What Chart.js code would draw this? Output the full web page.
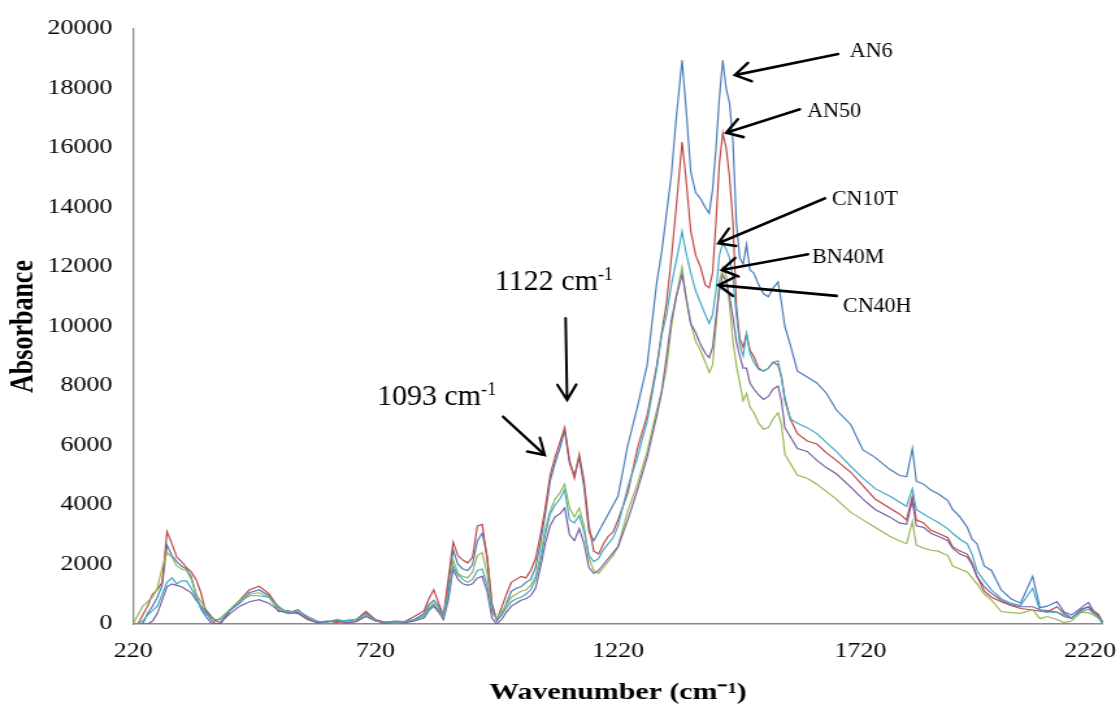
<!DOCTYPE html>
<html>
<head>
<meta charset="utf-8">
<script src="https://cdn.jsdelivr.net/npm/chart.js@4.4.1/dist/chart.umd.min.js"></script>
<style>
  body { margin: 0; overflow: hidden; background: #fff; }
  /* the original chart is stretched sideways, so the canvas is too */
  #wrap { width: 862px; height: 709px; transform: scaleX(1.2993); transform-origin: 0 0; }
</style>
</head>
<body>
<div id="wrap"><canvas id="spectra"></canvas></div>
<script>
// Spectra
const wavenumber = [
    220, 230, 240, 250, 260, 270, 280, 290, 300, 310, 320, 330, 340, 350, 360, 370, 380, 390, 400,
    420, 440, 460, 480, 500, 520, 540, 560, 580, 600,
    620, 640, 660, 680, 700, 720, 740, 760, 780, 800, 820,
    830, 840, 850, 860, 870, 880, 890, 900, 910, 920,
    930, 940, 950, 960, 970, 980, 990, 1000, 1010, 1020,
    1030, 1040, 1050, 1060, 1070, 1080, 1090, 1100, 1110, 1120,
    1130, 1140, 1150, 1160, 1170, 1180, 1190, 1200, 1210, 1220,
    1240, 1260, 1280, 1300, 1310, 1320, 1330, 1340, 1352, 1360, 1370, 1380, 1390, 1400,
    1408, 1415, 1422, 1429, 1436, 1443, 1450, 1457, 1464, 1471, 1478, 1485, 1492, 1500,
    1510, 1520, 1530, 1540, 1550, 1557, 1564, 1575, 1590, 1610,
    1630, 1650, 1670, 1700, 1725, 1750, 1780, 1800, 1815, 1827,
    1835, 1850, 1865, 1880, 1900, 1910, 1925, 1940, 1950, 1960,
    1975, 1990, 2010, 2030, 2050, 2075, 2090, 2105, 2125, 2140,
    2155, 2175, 2190, 2200, 2210, 2220
];
const an6 = [
    0, 0, 0, 350, 600, 900, 1300, 2650, 2300, 2100, 1950, 1850, 1600, 1000, 500, 250, 50, 0, 0,
    450, 700, 1050, 1150, 950, 420, 450, 350, 150, 50,
    80, 120, 50, 100, 380, 100, 50, 80, 60, 150, 350,
    650, 800, 600, 250, 1300, 2500, 2000, 1850, 1800, 2000,
    2800, 3050, 2300, 700, 100, 300, 700, 1100, 1200, 1250,
    1400, 1500, 1900, 2700, 3700, 4800, 5400, 5900, 6500, 5400,
    5000, 5600, 4600, 3100, 2800, 3100, 3400, 3700, 4000, 4300,
    6000, 7300, 8700, 11500, 12500, 13800, 15100, 17000, 18950, 17400, 15200, 14500, 14300, 14000,
    13800, 14600, 16000, 17700, 18950, 18000, 17500, 16200, 13500, 12300, 12100, 12750, 11900, 11800,
    11400, 11100, 11000, 11300, 11500, 10800, 10000, 9400, 8500, 8300,
    8100, 7750, 7200, 6700, 5850, 5600, 5200, 5000, 4950, 5900,
    4800, 4700, 4500, 4380, 4150, 3850, 3600, 3250, 2850, 2700,
    1950, 1800, 1150, 850, 700, 1600, 550, 600, 750, 400,
    300, 550, 720, 450, 300, 0
];
const an50 = [
    0, 0, 300, 600, 1000, 1150, 1400, 3100, 2700, 2250, 2100, 1900, 1750, 1500, 1050, 400, 150, 0, 20,
    470, 800, 1150, 1270, 1020, 550, 380, 480, 200, 60,
    100, 50, 120, 150, 420, 150, 60, 100, 80, 250, 450,
    850, 1150, 700, 300, 1500, 2750, 2300, 2150, 2050, 2250,
    3300, 3350, 2200, 600, 150, 550, 1000, 1400, 1500, 1600,
    1550, 1800, 2200, 3000, 3900, 5000, 5600, 6100, 6600, 5500,
    4900, 5700, 4800, 3300, 2450, 2350, 2700, 2950, 3100, 3500,
    4400, 5900, 7000, 8700, 9800, 10800, 12300, 14000, 16200, 15000, 13200, 12400, 12000, 11400,
    11300, 11800, 13500, 15500, 16500, 16000, 15000, 13500, 10700, 9600, 9300, 9750, 9200, 9000,
    8600, 8500, 8600, 8800, 8700, 8300, 7600, 6900, 6400, 6150,
    6050, 5750, 5500, 5100, 4650, 4200, 3900, 3700, 3500, 4300,
    3500, 3400, 3150, 3050, 2900, 2600, 2450, 2350, 2050, 1600,
    1100, 900, 750, 620, 520, 470, 430, 400, 580, 350,
    200, 500, 580, 450, 330, 50
];
const cn10t = [
    0, 0, 100, 300, 450, 600, 1000, 1400, 1550, 1350, 1450, 1450, 1200, 900, 550, 350, 200, 150, 150,
    470, 750, 950, 950, 900, 600, 350, 450, 250, 100,
    50, 150, 100, 150, 350, 100, 80, 50, 80, 150, 250,
    500, 650, 500, 250, 1000, 1950, 1650, 1500, 1400, 1500,
    1800, 1850, 1300, 400, 150, 300, 550, 750, 850, 900,
    1000, 1150, 1500, 2100, 3000, 3700, 4000, 4200, 4500, 3500,
    3400, 3650, 3100, 2300, 2100, 2200, 2500, 2700, 2900, 3300,
    4600, 5600, 6800, 8600, 9700, 10400, 11400, 12200, 13200, 12500, 11800, 11200, 10800, 10400,
    10100, 10400, 11200, 12400, 12800, 12600, 12300, 11600, 10400, 9400, 9000, 9750, 9100, 8800,
    8550, 8500, 8600, 8800, 8850, 8300, 7500, 6900, 6750, 6600,
    6400, 6100, 5800, 5300, 4900, 4550, 4300, 4100, 3950, 4550,
    3850, 3700, 3550, 3420, 3200, 3050, 2850, 2700, 2350, 1800,
    1450, 1150, 850, 700, 620, 1200, 450, 400, 400, 300,
    200, 420, 500, 360, 250, 0
];
const bn40m = [
    0, 300, 600, 750, 900, 1200, 1900, 2400, 2250, 1950, 1850, 1800, 1500, 1000, 750, 500, 300, 100, 200,
    500, 800, 1000, 1050, 900, 500, 420, 400, 150, 80,
    80, 150, 50, 100, 300, 100, 50, 80, 60, 100, 300,
    550, 700, 450, 300, 1000, 2150, 1700, 1600, 1550, 1750,
    2300, 2400, 1700, 400, 200, 400, 650, 900, 1000, 1100,
    1150, 1300, 1600, 2300, 3200, 3800, 4200, 4400, 4700, 3900,
    3600, 3900, 3300, 2200, 1800, 1700, 1900, 2100, 2300, 2600,
    3800, 4700, 5800, 7200, 7800, 8600, 10000, 11000, 12000, 11000, 10100, 9500, 9200, 8800,
    8450, 8700, 10000, 11500, 12000, 11700, 10700, 9500, 8700, 8100, 7500, 7750, 7300, 7100,
    6750, 6550, 6600, 6900, 7100, 6700, 5700, 5400, 5000, 4900,
    4700, 4450, 4200, 3750, 3500, 3250, 2950, 2800, 2700, 3450,
    2650, 2550, 2480, 2450, 2300, 1950, 1850, 1750, 1550, 1350,
    1000, 800, 420, 380, 360, 480, 180, 250, 150, 50,
    100, 400, 380, 300, 200, 0
];
const cn40h = [
    0, 0, 0, 0, 100, 350, 800, 1250, 1350, 1300, 1250, 1150, 1050, 800, 600, 450, 250, 100, 50,
    350, 600, 750, 820, 700, 450, 350, 380, 150, 50,
    80, 100, 30, 80, 250, 100, 20, 60, 40, 100, 200,
    450, 600, 400, 150, 800, 1850, 1500, 1350, 1300, 1350,
    1550, 1600, 1100, 200, 0, 150, 400, 600, 700, 800,
    850, 950, 1200, 1900, 2700, 3300, 3600, 3700, 3900, 3000,
    2800, 3200, 2700, 1900, 1700, 1800, 2000, 2200, 2400, 2600,
    3500, 4500, 5600, 7000, 7800, 9000, 10200, 11000, 11750, 11000, 10100, 9800, 9400, 9100,
    8950, 9300, 10300, 11200, 11750, 11500, 11000, 10300, 9500, 9000, 8600, 8600, 8100, 7900,
    7700, 7550, 7650, 7900, 8000, 7500, 6600, 6300, 5900, 5800,
    5500, 5250, 5050, 4600, 4200, 3850, 3600, 3400, 3350, 4150,
    3300, 3250, 3050, 2950, 2800, 2550, 2350, 2250, 2000, 1600,
    1250, 1030, 800, 650, 580, 580, 480, 450, 400, 250,
    180, 470, 580, 380, 250, 50
];
const xTicks = [220, 720, 1220, 1720, 2220];

// Arrows and labels, placed in wavenumber / absorbance units
const notes = [
    { text: 'AN6', size: 22, at: [1698, 19060], from: [1674, 19160], to: [1461, 18450] },
    { text: 'AN50', size: 22, at: [1610, 17040], from: [1595, 17300], to: [1443, 16510] },
    { text: 'CN10T', size: 22, at: [1661, 14080], from: [1647, 14310], to: [1427, 12800] },
    { text: 'BN40M', size: 22, at: [1620, 12120], from: [1612, 12430], to: [1434, 11900] },
    { text: 'CN40H', size: 22, at: [1684, 10490], from: [1671, 11030], to: [1427, 11390] },
    { text: '1122 cm', sup: '-1', size: 30, at: [966, 11227], from: [1112, 10275], to: [1115, 7529] },
    { text: '1093 cm', sup: '-1', size: 30, at: [723, 7361], from: [983, 6968], to: [1069, 5680] }
];

const stretch = 1120 / 862;
const serif = '"Liberation Serif", "Times New Roman", serif';

const toPoints = (ys) => ys.map((v, i) => ({ x: wavenumber[i], y: v }));

const notesPlugin = {
    id: 'notes',
    beforeDraw(chart) {
        // keep the last x label inside the picture
        const items = chart.scales.x.getLabelItems();
        const last = items[items.length - 1];
        if (last && !last.moved) {
            last.options.translation[0] -= 10;
            last.moved = true;
        }
    },
    afterDraw(chart) {
        const ctx = chart.ctx;
        const xs = chart.scales.x;
        const ys = chart.scales.y;
        const px = (v) => xs.getPixelForValue(v) * stretch;
        const py = (v) => ys.getPixelForValue(v);
        ctx.save();
        ctx.scale(1 / stretch, 1);
        ctx.strokeStyle = '#000';
        ctx.fillStyle = '#000';
        ctx.lineWidth = 2.6;
        ctx.lineCap = 'round';
        notes.forEach((n) => {
            const x1 = px(n.from[0]), y1 = py(n.from[1]);
            const x2 = px(n.to[0]), y2 = py(n.to[1]);
            const a = Math.atan2(y2 - y1, x2 - x1);
            const h = 18;
            ctx.beginPath();
            ctx.moveTo(x1, y1);
            ctx.lineTo(x2, y2);
            ctx.moveTo(x2 - h * Math.cos(a - 0.55), y2 - h * Math.sin(a - 0.55));
            ctx.lineTo(x2, y2);
            ctx.lineTo(x2 - h * Math.cos(a + 0.55), y2 - h * Math.sin(a + 0.55));
            ctx.stroke();

            ctx.font = n.size + 'px ' + serif;
            ctx.textBaseline = 'alphabetic';
            ctx.textAlign = 'left';
            const tx = px(n.at[0]), ty = py(n.at[1]);
            ctx.fillText(n.text, tx, ty);
            if (n.sup) {
                const w = ctx.measureText(n.text).width;
                ctx.font = Math.round(n.size * 0.6) + 'px ' + serif;
                ctx.fillText(n.sup, tx + w, ty - n.size * 0.33);
            }
        });
        ctx.restore();
    }
};

const config = {
    type: 'line',
    data: {
        datasets: [
            { label: 'AN6', data: toPoints(an6), borderColor: '#4a7ebb' },
            { label: 'AN50', data: toPoints(an50), borderColor: '#be4b48' },
            { label: 'BN40M', data: toPoints(bn40m), borderColor: '#98b954' },
            { label: 'CN40H', data: toPoints(cn40h), borderColor: '#7d60a0' },
            { label: 'CN10T', data: toPoints(cn10t), borderColor: '#46aac5' }
        ].map((d, i) => Object.assign(d, {
            borderWidth: 1.2,
            pointRadius: 0,
            tension: 0,
            fill: false,
            order: 4 - i
        }))
    },
    options: {
        responsive: true,
        maintainAspectRatio: false,
        animation: false,
        layout: {
            padding: { top: 29, right: 13.1, bottom: 0, left: 0 }
        },
        plugins: {
            legend: { display: false },
            tooltip: { enabled: false }
        },
        scales: {
            x: {
                type: 'linear',
                min: 220,
                max: 2220,
                afterBuildTicks: (scale) => {
                    scale.ticks = xTicks.map((v) => ({ value: v }));
                },
                afterFit: (scale) => {
                    scale.height = 85;
                    scale.paddingLeft = 0;
                    scale.paddingRight = 0;
                },
                grid: { display: false, drawTicks: false },
                border: { display: true, color: '#8a8a8a', width: 1.6 },
                ticks: {
                    color: '#000',
                    padding: 16,
                    maxRotation: 0,
                    autoSkip: false,
                    font: { family: serif, size: 20 },
                    callback: (v) => String(v)
                },
                title: {
                    display: true,
                    text: 'Wavenumber (cm\u207B\u00B9)',
                    color: '#000',
                    padding: { top: 4, bottom: 2 },
                    font: { family: serif, size: 23, weight: 'bold' }
                }
            },
            y: {
                min: 0,
                max: 20000,
                afterFit: (scale) => {
                    scale.width = 102.4;
                },
                grid: { display: false, drawTicks: false },
                border: { display: true, color: '#8a8a8a', width: 1.3 },
                ticks: {
                    stepSize: 2000,
                    color: '#000',
                    padding: 16,
                    font: { family: serif, size: 20 },
                    callback: (v) => String(v)
                },
                title: {
                    display: true,
                    text: 'Absorbance',
                    color: '#000',
                    padding: 3,
                    font: { family: serif, size: 26, weight: 'bold' }
                }
            }
        }
    },
    plugins: [notesPlugin]
};

const spectraChart = new Chart(
    document.getElementById('spectra'),
    config
);
</script>
</body>
</html>
